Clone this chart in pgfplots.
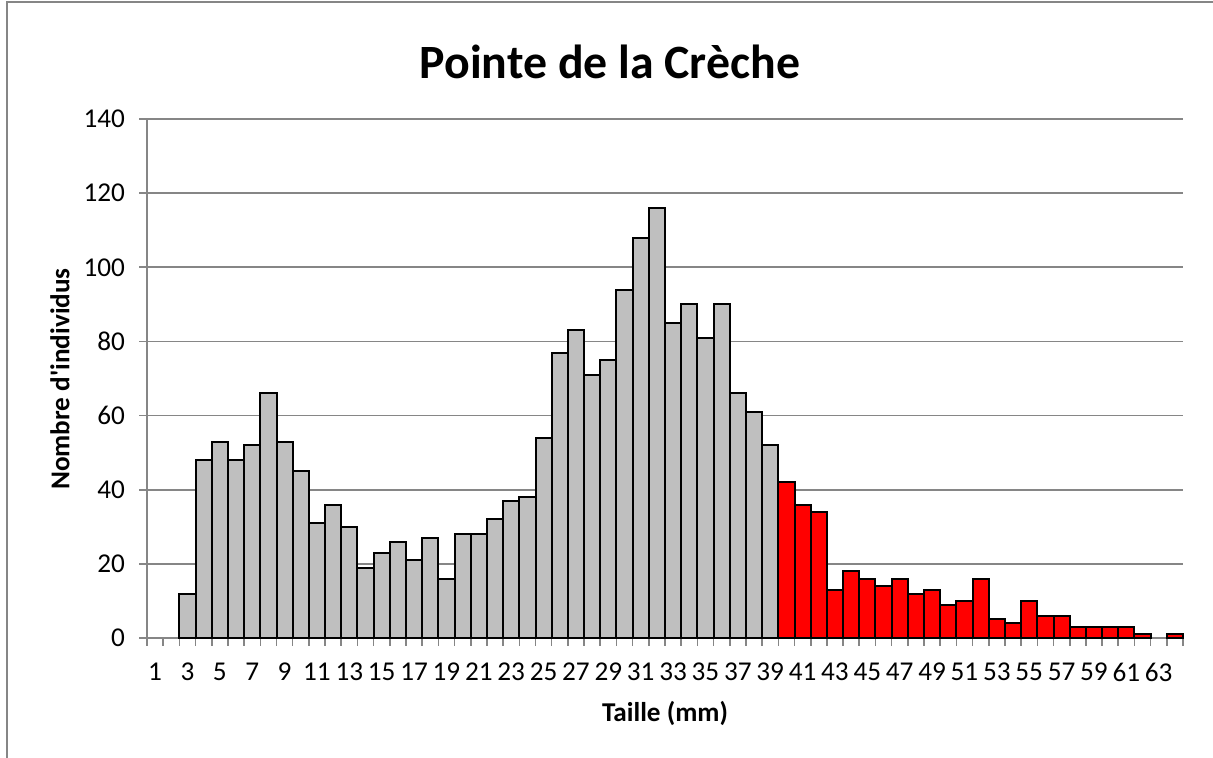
\documentclass[border=0pt]{standalone}
\usepackage{pgfplots}
\pgfplotsset{compat=1.18}
\usepackage{fontspec}
\setmainfont{Carlito}
\definecolor{bargray}{RGB}{191,191,191}
\definecolor{axgray}{RGB}{134,134,134}
\begin{document}
\begin{tikzpicture}[x=1pt,y=1pt]
\useasboundingbox (0,0) rectangle (606.5,379);
\draw[axgray, line width=0.8pt] (3.5,-2) -- (3.5,378) -- (610,378);
\begin{axis}[
  at={(73.5pt,60pt)}, anchor=south west,
  scale only axis, width=518pt, height=259.5pt,
  xmin=0.5, xmax=64.5, ymin=0, ymax=140,
  axis lines*=left,
  axis line style={axgray, line width=0.8pt},
  ytick={0,20,...,140},
  xtick={0.5,1.5,...,64.5},
  xticklabels={},
  extra x ticks={1,3,...,63},
  extra x tick style={major tick length=0pt, xticklabel style={yshift=-9pt}},
  tick align=outside,
  major tick length=4pt,
  tick style={axgray, line width=0.8pt},
  ymajorgrids,
  grid style={axgray, line width=0.8pt},
  tick label style={font=\fontsize{13.6}{16}\selectfont},
  /pgf/number format/assume math mode=true,
  yticklabel style={xshift=-3.5pt},
  clip=false,
]
\addplot[ybar, bar shift=0pt, bar width=1, fill=bargray, draw=black, line width=1pt] coordinates {
(3,12) (4,48) (5,53) (6,48) (7,52) (8,66) (9,53) (10,45) (11,31) (12,36)
(13,30) (14,19) (15,23) (16,26) (17,21) (18,27) (19,16) (20,28) (21,28) (22,32)
(23,37) (24,38) (25,54) (26,77) (27,83) (28,71) (29,75) (30,94) (31,108) (32,116)
(33,85) (34,90) (35,81) (36,90) (37,66) (38,61) (39,52)
};
\addplot[ybar, bar shift=0pt, bar width=1, fill=red, draw=black, line width=1pt] coordinates {
(40,42) (41,36) (42,34) (43,13) (44,18) (45,16) (46,14) (47,16) (48,12) (49,13)
(50,9) (51,10) (52,16) (53,5) (54,4) (55,10) (56,6) (57,6) (58,3) (59,3)
(60,3) (61,3) (62,1) (64,1)
};
\end{axis}
\node[font=\fontsize{23.9}{28}\selectfont\bfseries] at (305,348) {Pointe de la Crèche};
\node[font=\fontsize{13.6}{16}\selectfont\bfseries] at (332.5,22.5) {Taille (mm)};
\node[font=\fontsize{13.6}{16}\selectfont\bfseries, rotate=90] at (30,189.5) {Nombre d\textquotesingle individus};
\end{tikzpicture}
\end{document}
